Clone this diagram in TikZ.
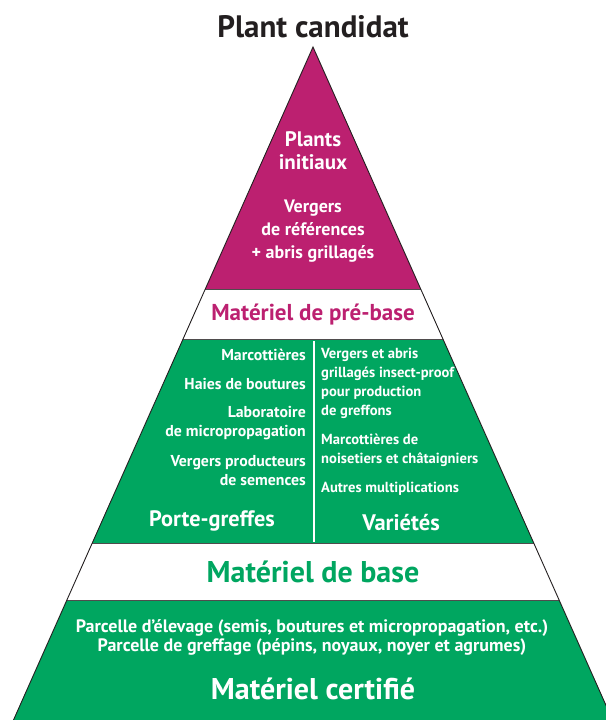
\documentclass[tikz,border=0pt]{standalone}
\usepackage{fontspec}
\setmainfont{PT Sans}
\usepackage{tikz}

\definecolor{rose}{RGB}{188,32,112}
\definecolor{vert}{RGB}{0,166,96}
\definecolor{encre}{RGB}{35,31,32}
\newcommand{\fs}[2]{\fontsize{#1}{#2}\selectfont}

\begin{document}
\begin{tikzpicture}[x=1pt,y=-1pt,
    contour/.style={draw=encre,line width=0.9pt},
    trait/.style={draw=encre!80,line width=0.9pt},
    txt/.style={inner sep=0pt,text=white,font=\bfseries},
    colg/.style={txt,anchor=east,align=right,font=\bfseries\fs{15.8}{19}},
    cold/.style={txt,anchor=west,align=left,font=\bfseries\fs{14.6}{19}}]
    \useasboundingbox (0,0) rectangle (605,720);
    % les bandes
    \coordinate (apex) at (313,47);
    \fill[rose] (apex) -- (420.7,289) -- (205.3,289) -- cycle;
    \fill[vert] (183.1,339) -- (442.9,339) -- (533.7,543) -- (92.3,543) -- cycle;
    \fill[vert] (66.9,600) -- (559.1,600) -- (612.5,720) -- (13.5,720) -- cycle;
    \foreach \y/\l/\r in {289/205.3/420.7, 339/183.1/442.9, 543/92.3/533.7, 600/66.9/559.1}
      \draw[trait] (\l,\y) -- (\r,\y);
    \draw[contour] (13.5,720) -- (apex) -- (612.5,720);
    \coordinate (sep1) at (314,341);
    \coordinate (sep2) at (314,542);
    \draw[white,line width=1.6pt] (sep1) -- (sep2);
    % textes
    \node[txt,text=encre,font=\bfseries\fs{31}{34}] (cand) at (313,27) {Plant candidat};
    \node[txt,align=center,font=\bfseries\fs{21}{23}] (init) at (313,151) {Plants\\initiaux};
    \node[txt,align=center,font=\bfseries\fs{18}{23}] (verg) at (313,231) {Vergers\\de références\\+ abris grillagés};
    \node[txt,text=rose,font=\bfseries\fs{23}{26}] (prebase) at (313,315) {Matériel de pré-base};
    \node[colg] (marc) at (306,355) {Marcottières};
    \node[colg] (haies) at (306,384) {Haies de boutures};
    \node[colg] (labo) at (306,423) {Laboratoire\\de micropropagation};
    \node[colg] (sem) at (306,471) {Vergers producteurs\\de semences};
    \node[cold] (abris) at (321,383) {Vergers et abris\\grillagés insect-proof\\pour production\\de greffons};
    \node[cold] (noix) at (321,450) {Marcottières de\\noisetiers et châtaigniers};
    \node[cold] (autres) at (321,489) {Autres multiplications};
    \node[txt,font=\bfseries\fs{22.3}{26}] (pg) at (212,521) {Porte-greffes};
    \node[txt,font=\bfseries\fs{22.5}{26}] (var) at (401,523) {Variétés};
    \node[txt,text=vert,font=\bfseries\fs{30}{34}] (base) at (313,572) {Matériel de base};
    \node[txt,align=center,font=\bfseries\fs{18}{19}] (parc) at (312,637) {Parcelle d’élevage (semis, boutures et micropropagation, etc.)\\Parcelle de greffage (pépins, noyaux, noyer et agrumes)};
    \node[txt,font=\bfseries\fs{30}{34}] (cert) at (313,689) {Matériel certifié};
\end{tikzpicture}
\end{document}
